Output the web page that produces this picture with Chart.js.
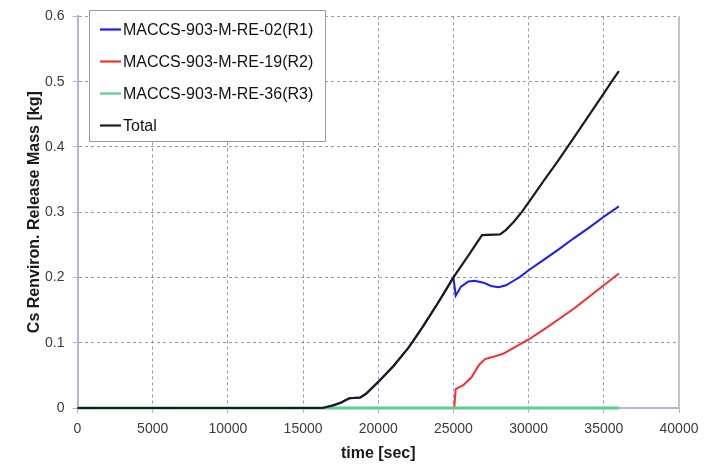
<!DOCTYPE html>
<html>
<head>
<meta charset="utf-8">
<script src="https://cdn.jsdelivr.net/npm/chart.js@4"></script>
<style>
html,body{margin:0;padding:0;background:#fff;}
#wrap{width:711px;height:465px;position:relative;}
</style>
</head>
<body>
<div id="wrap"><canvas id="c" width="711" height="465"></canvas></div>
<script>
// ---- data ----
const seriesLabels = ['MACCS-903-M-RE-02(R1)', 'MACCS-903-M-RE-19(R2)', 'MACCS-903-M-RE-36(R3)', 'Total'];

const timeTotal = [0, 16300, 17000, 17500, 18080, 18790, 19200, 20000, 21000, 22000, 22330, 23000, 24000, 25000, 26000, 26900, 28100, 28500, 29000, 29540, 30000, 31000, 32000, 33000, 34000, 35000, 35520, 36000];
const massTotal = [0, 0, 0.004, 0.008, 0.015, 0.016, 0.022, 0.040, 0.064, 0.092, 0.103, 0.126, 0.162, 0.200, 0.234, 0.265, 0.266, 0.273, 0.285, 0.300, 0.315, 0.348, 0.380, 0.414, 0.448, 0.482, 0.500, 0.516];

const timeR1 = [0, 16300, 17000, 17500, 18080, 18790, 19200, 20000, 21000, 22000, 22330, 23000, 24000, 25000, 25150, 25500, 26000, 26400, 27000, 27500, 28000, 28500, 29000, 29430, 30000, 31000, 32000, 33000, 34000, 35000, 36000];
const massR1 = [0, 0, 0.004, 0.008, 0.015, 0.016, 0.022, 0.040, 0.064, 0.092, 0.103, 0.126, 0.162, 0.200, 0.172, 0.186, 0.194, 0.195, 0.192, 0.187, 0.185, 0.188, 0.195, 0.201, 0.211, 0.227, 0.243, 0.260, 0.276, 0.293, 0.309];

const timeR2 = [0, 25050, 25150, 25650, 26200, 26700, 27100, 27600, 28300, 29000, 30000, 31000, 32000, 33000, 34000, 35000, 36000];
const massR2 = [0, 0, 0.029, 0.035, 0.047, 0.066, 0.075, 0.078, 0.083, 0.092, 0.105, 0.120, 0.136, 0.152, 0.170, 0.188, 0.206];

const timeR3 = [0, 36000];
const massR3 = [0, 0];

const xTicks = [0, 5000, 10000, 15000, 20000, 25000, 30000, 35000, 40000];
const yTicks = [0, 0.1, 0.2, 0.3, 0.4, 0.5, 0.6];

const colors = ['#1a1aff', '#ff2a2a', '#5ccf8e', '#1c1c1c'];
const widths = [2, 2, 3, 2.2];

function pts(t, m) { return t.map((v, i) => ({ x: v, y: m[i] })); }

const FONT = '"Liberation Sans", Arial, sans-serif';

const legendBox = {
  id: 'legendBox',
  afterDraw(chart) {
    const ctx = chart.ctx;
    const x0 = 89.5, y0 = 10.5, w = 236, h = 131;
    ctx.save();
    ctx.fillStyle = '#ffffff';
    ctx.fillRect(x0, y0, w, h);
    ctx.strokeStyle = '#9a9a9a';
    ctx.lineWidth = 1;
    ctx.strokeRect(x0, y0, w, h);
    const rows = [29.5, 61.5, 93.5, 125.5];
    ctx.font = '16px ' + FONT;
    ctx.textBaseline = 'middle';
    ctx.textAlign = 'left';
    chart.data.datasets.forEach((ds, i) => {
      const yy = rows[i];
      ctx.strokeStyle = ds.borderColor;
      ctx.lineWidth = 2.2;
      ctx.beginPath();
      ctx.moveTo(100, yy);
      ctx.lineTo(121, yy);
      ctx.stroke();
      ctx.fillStyle = '#111111';
      ctx.fillText(ds.label, 123, yy + 1);
    });
    ctx.restore();
  }
};

const frame = {
  id: 'frame',
  beforeDatasetsDraw(chart) {
    const { ctx, chartArea: a } = chart;
    ctx.save();
    ctx.strokeStyle = '#c4c4c4';
    ctx.lineWidth = 2;
    ctx.beginPath();
    ctx.moveTo(a.right, a.top);
    ctx.lineTo(a.right, a.bottom);
    ctx.stroke();
    ctx.restore();
  }
};

const lineDs = (i, t, m, order) => ({
  label: seriesLabels[i],
  data: pts(t, m),
  borderColor: colors[i],
  backgroundColor: colors[i],
  borderWidth: widths[i],
  pointRadius: 0,
  tension: 0,
  fill: false,
  clip: 6,
  order: order
});

new Chart(document.getElementById('c'), {
  type: 'line',
  data: {
    datasets: [
      lineDs(0, timeR1, massR1, 3),
      lineDs(1, timeR2, massR2, 2),
      lineDs(2, timeR3, massR3, 1),
      lineDs(3, timeTotal, massTotal, 0)
    ]
  },
  options: {
    responsive: false,
    animation: false,
    devicePixelRatio: 1,
    layout: { padding: { left: 0, right: 32, top: 10, bottom: 0 } },
    plugins: { legend: { display: false }, tooltip: { enabled: false } },
    scales: {
      x: {
        type: 'linear',
        min: 0, max: 40000,
        afterBuildTicks: s => { s.ticks = xTicks.map(v => ({ value: v })); },
        afterFit: s => { s.height = 57; },
        ticks: {
          callback: v => String(v),
          color: '#3c3c3c',
          font: { family: FONT, size: 14 },
          padding: 8,
          maxRotation: 0
        },
        grid: {
          color: 'rgba(110,110,210,0.75)',
          lineWidth: 1,
          tickLength: 5,
          tickColor: '#b4b4dc',
          tickBorderDash: []
        },
        border: { display: true, color: '#b4b4dc', width: 2, dash: [3, 3] },
        title: {
          display: true,
          text: 'time [sec]',
          color: '#1a1a1a',
          font: { family: FONT, size: 16, weight: 'bold' },
          padding: { top: 0, bottom: 2 }
        }
      },
      y: {
        type: 'linear',
        min: 0, max: 0.6,
        afterBuildTicks: s => { s.ticks = yTicks.map(v => ({ value: v })); },
        afterFit: s => { s.width = 77.5; },
        ticks: {
          callback: v => String(Math.round(v * 10) / 10),
          color: '#3c3c3c',
          font: { family: FONT, size: 14 },
          padding: 8
        },
        grid: {
          color: 'rgba(110,110,210,0.75)',
          lineWidth: 1,
          tickLength: 5,
          tickColor: '#b4b4dc',
          tickBorderDash: []
        },
        border: { display: true, color: '#b4b4dc', width: 2, dash: [3, 3] },
        title: {
          display: true,
          text: 'Cs Renviron. Release Mass [kg]',
          color: '#1a1a1a',
          font: { family: FONT, size: 16, weight: 'bold' },
          padding: { top: 25, bottom: 0 }
        }
      }
    }
  },
  plugins: [frame, legendBox]
});
</script>
</body>
</html>
